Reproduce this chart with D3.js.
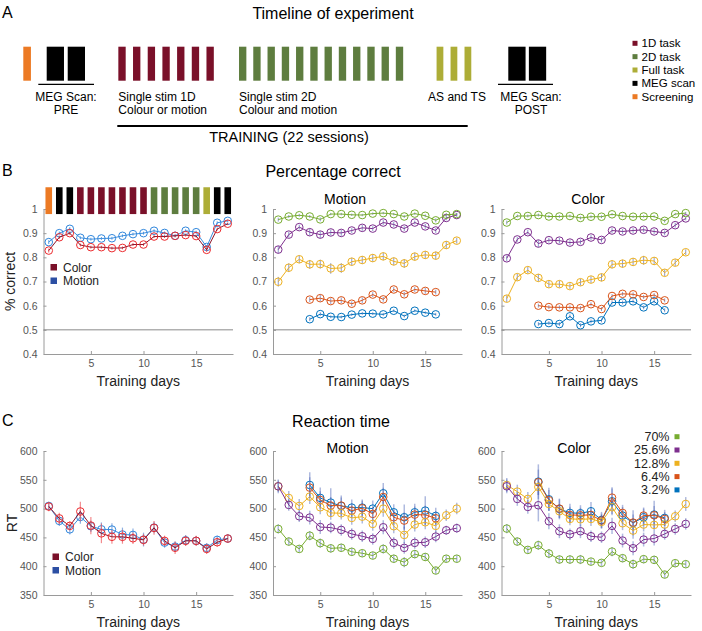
<!DOCTYPE html>
<html><head><meta charset="utf-8">
<script src="https://cdn.jsdelivr.net/npm/d3@7"></script>
<style>
body{margin:0;background:#fff}
text{font-family:Arial,"Liberation Sans",Helvetica,sans-serif}
</style>
</head><body>
<svg id="c" width="702" height="631"></svg>
<script>
// ---------------- DATA ----------------
const days = d3.range(1, 19);        // 18 training days
const daysMid = d3.range(4, 17);     // days 4..16 for low coherences
const xTicks = [5, 10, 15];
const yTicksAcc = [0.4, 0.5, 0.6, 0.7, 0.8, 0.9, 1];
const yTicksRT = [350, 400, 450, 500, 550, 600];

// Timeline sessions (panel A)
const timelineSessions = ["Screening","MEG","MEG",
  "1D","1D","1D","1D","1D","1D","1D",
  "2D","2D","2D","2D","2D","2D","2D","2D","2D","2D","2D","2D",
  "Full","Full","Full","MEG","MEG"];
const timelineLegend = ["1D task","2D task","Full task","MEG scan","Screening"];
const timelineLegendKeys = ["1D","2D","Full","MEG","Screening"];
// Session type per training day (top of panel B left)
const dayTypes = ["Screening","MEG","MEG","1D","1D","1D","1D","1D","1D","1D",
  "2D","2D","2D","2D","2D","Full","MEG","MEG"];

// Panel B left: accuracy overall
const accColorAll  = [0.828,0.883,0.900,0.851,0.842,0.842,0.838,0.839,0.853,0.853,0.886,0.886,0.889,0.892,0.888,0.831,0.917,0.939];
const accMotionAll = [0.863,0.900,0.918,0.881,0.875,0.878,0.879,0.889,0.896,0.900,0.910,0.901,0.889,0.910,0.904,0.843,0.943,0.951];
const errAccColorAll  = [0.008,0.007,0.007,0.006,0.006,0.006,0.006,0.006,0.006,0.006,0.006,0.006,0.006,0.006,0.006,0.008,0.006,0.005];
const errAccMotionAll = [0.008,0.007,0.007,0.006,0.006,0.006,0.006,0.006,0.006,0.006,0.006,0.006,0.006,0.006,0.006,0.008,0.006,0.005];

// coherence levels
const coherences = ["70%","25.6%","12.8%","6.4%","3.2%"];

// Panel B middle: motion accuracy by coherence
const mAcc70  = [0.956,0.969,0.974,0.969,0.957,0.979,0.979,0.976,0.975,0.981,0.983,0.979,0.969,0.981,0.972,0.953,0.976,0.979];
const mAcc256 = [0.832,0.894,0.925,0.904,0.894,0.903,0.901,0.911,0.922,0.919,0.944,0.936,0.919,0.944,0.928,0.911,0.963,0.975];
const mAcc128 = [0.699,0.757,0.792,0.771,0.772,0.754,0.756,0.782,0.789,0.797,0.804,0.783,0.775,0.803,0.810,0.807,0.851,0.869];
const mAcc64  = [0.625,0.631,0.619,0.622,0.608,0.622,0.646,0.626,0.667,0.647,0.667,0.661,0.656];
const mAcc32  = [0.544,0.565,0.554,0.553,0.563,0.568,0.567,0.564,0.579,0.557,0.579,0.571,0.564];
const errMAcc70  = [0.008,0.006,0.006,0.006,0.008,0.005,0.005,0.005,0.005,0.005,0.005,0.005,0.006,0.005,0.006,0.008,0.006,0.005];
const errMAcc256 = [0.015,0.012,0.010,0.014,0.014,0.012,0.012,0.010,0.012,0.010,0.010,0.010,0.010,0.008,0.010,0.010,0.010,0.008];
const errMAcc128 = [0.020,0.018,0.016,0.018,0.018,0.022,0.020,0.016,0.016,0.016,0.016,0.016,0.018,0.016,0.016,0.016,0.016,0.012];
const errMAcc64  = [0.010,0.014,0.012,0.012,0.010,0.012,0.010,0.010,0.010,0.010,0.010,0.012,0.010];
const errMAcc32  = [0.008,0.008,0.006,0.006,0.006,0.006,0.006,0.006,0.006,0.006,0.006,0.006,0.006];

// Panel B right: color accuracy by coherence
const cAcc70  = [0.944,0.971,0.971,0.975,0.969,0.969,0.971,0.963,0.968,0.968,0.978,0.971,0.968,0.969,0.969,0.951,0.979,0.983];
const cAcc256 = [0.796,0.874,0.904,0.857,0.871,0.869,0.861,0.864,0.882,0.872,0.911,0.907,0.911,0.914,0.907,0.901,0.933,0.961];
const cAcc128 = [0.629,0.718,0.747,0.715,0.689,0.689,0.681,0.697,0.708,0.717,0.771,0.774,0.781,0.788,0.785,0.736,0.778,0.821];
const cAcc64  = [0.600,0.594,0.593,0.593,0.590,0.606,0.586,0.640,0.649,0.647,0.636,0.644,0.622];
const cAcc32  = [0.524,0.528,0.524,0.556,0.519,0.535,0.539,0.613,0.613,0.618,0.593,0.618,0.581];
const errCAcc70  = [0.008,0.006,0.006,0.006,0.006,0.006,0.006,0.006,0.006,0.006,0.005,0.005,0.005,0.005,0.005,0.007,0.005,0.005];
const errCAcc256 = [0.012,0.010,0.010,0.014,0.010,0.012,0.010,0.010,0.010,0.010,0.010,0.010,0.010,0.010,0.010,0.010,0.010,0.008];
const errCAcc128 = [0.014,0.014,0.014,0.016,0.014,0.014,0.012,0.014,0.014,0.016,0.016,0.016,0.016,0.018,0.016,0.014,0.014,0.012];
const errCAcc64  = [0.008,0.008,0.008,0.008,0.008,0.008,0.008,0.008,0.008,0.008,0.008,0.008,0.008];
const errCAcc32  = [0.008,0.008,0.008,0.008,0.008,0.008,0.008,0.008,0.008,0.008,0.008,0.008,0.008];

// Panel C left: RT overall
const rtColorAll  = [503.5,483,470,495,470.5,457,451,451,448.5,445.7,466.5,444,432,444,444,430,441.6,448];
const rtMotionAll = [504.6,478.6,464,485.5,469.4,464,463.6,455,454.3,446.2,467,441,434,445,444,431.8,445.7,448];
const errRtColorAll  = [8,10,8,17,15,17,12,12,10,10,12,9,11,9,9,9,8,7];
const errRtMotionAll = [7,9,9,12,10,12,11,12,11,12,10,9,9,9,8,8,7,7];

// Panel C middle: motion RT by coherence
const mRt70  = [464.7,442.8,430,453,440,431,432,425,422.5,418.5,430,413,407,421,416,392.5,413,413];
const mRt256 = [538.7,506.4,486.7,484.4,468,467,463,456,452,447.4,467.6,440.5,431.8,440.5,441.6,451.4,462.4,466];
const mRt128 = [538.7,518.5,504.6,520.8,502.3,492.5,491.9,483.8,486,473.4,500,469.4,454.3,472.3,476.3,470,488.4,500];
const mRt64  = [536.4,515,505.2,505.2,496.5,500.6,490.8,520.2,485,479.2,489.6,489,483.2];
const mRt32  = [541,518.5,510.4,504.6,501.7,501.7,500,526.6,493.6,485,493.6,496.5,487.3];
const errMRt70  = [8,7,6,8,8,7,7,7,6,6,8,7,9,7,7,6,6,6];
const errMRt256 = [10,10,10,12,12,10,10,10,10,10,12,10,10,10,10,10,8,8];
const errMRt128 = [12,12,12,13,12,12,11,12,12,12,14,12,14,12,12,10,10,10];
const errMRt64  = [18,15,15,14,13,13,12,16,13,14,14,16,12];
const errMRt32  = [22,18,25,18,14,14,14,18,14,22,15,25,14];

// Panel C right: color RT by coherence
const cRt70  = [465.3,442.8,428.3,436.4,422,411.6,411.6,411.6,408,405.8,425.4,413.9,403.5,412.2,411,385.5,405.2,403.5];
const cRt256 = [538.7,516.8,502.9,505.8,478,460.7,455.5,460.7,452,450.3,470,444.5,431.2,446.2,448,456,464.7,473.4];
const cRt128 = [541,529.5,516.8,537.6,508,495.4,482,481.5,482,476.9,502.3,474.6,461.8,472.3,471.7,472.3,486.7,508];
const cRt64  = [545.7,514.5,500,489,488.4,489,479.2,519,492.5,475.7,487.9,488.4,482];
const cRt32  = [546.8,516.2,499.4,492.5,491.9,495.4,480.3,512.7,487.9,475.1,485,489.6,483.8];
const errCRt70  = [8,7,6,8,8,7,7,8,6,6,8,7,8,7,7,6,6,6];
const errCRt256 = [12,12,12,28,14,12,10,12,10,10,14,12,12,12,12,10,10,10];
const errCRt128 = [12,12,12,14,12,12,11,12,12,12,14,12,14,12,12,10,10,12];
const errCRt64  = [22,18,16,14,13,13,12,18,14,14,14,16,12];
const errCRt32  = [30,20,18,16,14,16,14,22,15,22,15,24,14];

// ---------------- STYLE ----------------
const typeColor = {"1D":"#7a1029","2D":"#5e7d3f","Full":"#adad37","MEG":"#000000","Screening":"#ec7a24"};
const cohColor = ["#77ac30","#7e2f8e","#edb120","#d95319","#0072bd"];
const axisGrey = "#9a9a9a", tickTextGrey = "#555";

const svg = d3.select("#c");

function txt(x, y, s, size, anchor, fill) {
  return svg.append("text").attr("x", x).attr("y", y).text(s)
    .attr("font-size", size).attr("text-anchor", anchor || "start").attr("fill", fill || "#000");
}

// ---------------- PANEL A ----------------
txt(2, 17.5, "A", 16);
txt(333, 18.5, "Timeline of experiment", 16, "middle");

// layout of timeline: group start in slot units, pitch
const slot = d3.scaleLinear().domain([0, 1]).range([23.3, 37.7]);
const groupLayout = {"Screening":{start:0, pitch:1, w:0.53},
  "MEGpre":{start:1.625, pitch:1.46, w:1.2},
  "1D":{start:6.6, pitch:1.02, w:0.51},
  "2D":{start:14.98, pitch:0.99, w:0.51},
  "Full":{start:28.7, pitch:0.97, w:0.47},
  "MEGpost":{start:33.68, pitch:1.43, w:1.2}};
const tlY = d3.scaleLinear().domain([0, 1]).range([80.7, 46.7]);
let counters = {}, seenTraining = false;
timelineSessions.forEach(t => {
  let key = t;
  if (t === "MEG") key = seenTraining ? "MEGpost" : "MEGpre";
  if (t === "1D") seenTraining = true;
  const L = groupLayout[key];
  const i = counters[key] = (counters[key] === undefined ? 0 : counters[key] + 1);
  const s0 = L.start + i * L.pitch;
  svg.append("rect").attr("x", slot(s0)).attr("y", tlY(1))
    .attr("width", slot(s0 + L.w) - slot(s0)).attr("height", tlY(0) - tlY(1))
    .attr("fill", typeColor[t]);
});
// underlines
svg.append("line").attr("x1", 38.3).attr("x2", 94).attr("y1", 84.3).attr("y2", 84.3).attr("stroke", "#000").attr("stroke-width", 1.3);
svg.append("line").attr("x1", 498).attr("x2", 553).attr("y1", 84.3).attr("y2", 84.3).attr("stroke", "#000").attr("stroke-width", 1.3);
svg.append("line").attr("x1", 117.3).attr("x2", 467.7).attr("y1", 126).attr("y2", 126).attr("stroke", "#000").attr("stroke-width", 2);
txt(66, 101, "MEG Scan:", 12, "middle");
txt(66, 113.5, "PRE", 12, "middle");
txt(118.3, 101, "Single stim 1D", 12);
txt(118.3, 113.5, "Colour or motion", 12);
txt(239, 101, "Single stim 2D", 12);
txt(239, 113.5, "Colour and motion", 12);
txt(457, 101, "AS and TS", 12, "middle");
txt(531, 101, "MEG Scan:", 12, "middle");
txt(531, 113.5, "POST", 12, "middle");
txt(289, 141.5, "TRAINING (22 sessions)", 14.5, "middle");
// legend A
timelineLegend.forEach((lab, i) => {
  const cy = 43.3 + i * 13.35;
  svg.append("rect").attr("x", 632.5).attr("y", cy - 2.5).attr("width", 5).attr("height", 5).attr("fill", typeColor[timelineLegendKeys[i]]);
  txt(641.5, cy + 4, lab, 11.5);
});

// ---------------- AXES helpers ----------------
const xRanges = [[43.5, 233], [273, 462], [501.5, 691]];
const xScales = xRanges.map(r => d3.scaleLinear().domain([0.5, 18.5]).range(r));
const yB = d3.scaleLinear().domain([0.4, 1]).range([354, 209]);
const yC = d3.scaleLinear().domain([350, 600]).range([595, 451]);

function drawAxes(xs, ys, yTicks, fmt) {
  const g = svg.append("g");
  const gx = g.append("g").attr("transform", `translate(0,${ys.range()[0]})`)
    .call(d3.axisBottom(xs).tickValues(xTicks).tickSizeInner(-3).tickSizeOuter(0).tickPadding(6));
  const gy = g.append("g").attr("transform", `translate(${xs.range()[0]},0)`)
    .call(d3.axisLeft(ys).tickValues(yTicks).tickFormat(fmt).tickSizeInner(-3).tickSizeOuter(0).tickPadding(6));
  [gx, gy].forEach(a => {
    a.select(".domain").attr("stroke", axisGrey).attr("stroke-width", 1);
    a.selectAll(".tick line").attr("stroke", axisGrey);
    a.selectAll(".tick text").attr("fill", tickTextGrey).attr("font-size", 10.5)
      .attr("font-family", "Arial,'Liberation Sans',sans-serif");
  });
}
const fmtAcc = d => d === 1 ? "1" : d3.format(".1f")(d);
const fmtRT = d => String(d);

function drawSeries(xs, ys, xd, vals, errs, lineCol, markCol, errCol, errW, errOp) {
  const g = svg.append("g");
  const pts = xd.map((d, i) => ({d, v: vals[i], e: errs[i]}));
  g.selectAll("line.eb").data(pts).join("line")
    .attr("x1", p => xs(p.d)).attr("x2", p => xs(p.d))
    .attr("y1", p => ys(p.v - p.e)).attr("y2", p => ys(p.v + p.e))
    .attr("stroke", errCol).attr("stroke-width", errW).attr("stroke-opacity", errOp);
  g.append("path").datum(pts)
    .attr("d", d3.line().x(p => xs(p.d)).y(p => ys(p.v)))
    .attr("fill", "none").attr("stroke", lineCol).attr("stroke-width", 1);
  g.selectAll("circle").data(pts).join("circle")
    .attr("cx", p => xs(p.d)).attr("cy", p => ys(p.v)).attr("r", 3.8)
    .attr("fill", "none").attr("stroke", markCol).attr("stroke-width", 1);
}

// ---------------- PANEL B ----------------
txt(2, 175.5, "B", 16);
txt(333, 177, "Percentage correct", 16, "middle");
txt(345, 203.5, "Motion", 14, "middle");
txt(588, 203.5, "Color", 14, "middle");

xScales.forEach(xs => {
  drawAxes(xs, yB, yTicksAcc, fmtAcc);
  svg.append("line").attr("x1", xs.range()[0]).attr("x2", xs.range()[1])
    .attr("y1", yB(0.5)).attr("y2", yB(0.5)).attr("stroke", "#8a8a8a").attr("stroke-width", 1);
  txt((xs.range()[0] + xs.range()[1]) / 2, 385.5, "Training days", 14, "middle", "#222");
});
// session-type squares above panel B left
{
  const xs = xScales[0];
  svg.append("g").selectAll("rect").data(dayTypes).join("rect")
    .attr("x", (t, i) => xs(days[i]) - 3.3).attr("width", 6.6)
    .attr("y", yB(1.09)).attr("height", yB(0.979) - yB(1.09))
    .attr("fill", t => typeColor[t]);
}
svg.append("text").attr("transform", "translate(15,281.5) rotate(-90)").attr("text-anchor", "middle")
  .attr("font-size", 14).attr("fill", "#222").text("% correct");

drawSeries(xScales[0], yB, days, accMotionAll, errAccMotionAll, "#3d8ede", "#2f86dc", "#2f86dc", 1, 0.8);
drawSeries(xScales[0], yB, days, accColorAll, errAccColorAll, "#8c1228", "#ec2a2e", "#ec2a2e", 1, 0.8);
svg.append("rect").attr("x", 50.5).attr("y", 264).attr("width", 6.5).attr("height", 6.5).attr("fill", "#7a1029");
svg.append("rect").attr("x", 50.5).attr("y", 277.5).attr("width", 6.5).attr("height", 6.5).attr("fill", "#2c4fa3");
txt(63, 271.5, "Color", 12, "start", "#222");
txt(63, 285, "Motion", 12, "start", "#222");

const mAcc = [mAcc70, mAcc256, mAcc128, mAcc64, mAcc32];
const mAccE = [errMAcc70, errMAcc256, errMAcc128, errMAcc64, errMAcc32];
const cAcc = [cAcc70, cAcc256, cAcc128, cAcc64, cAcc32];
const cAccE = [errCAcc70, errCAcc256, errCAcc128, errCAcc64, errCAcc32];
for (let k = 4; k >= 0; k--) {
  const xd = k >= 3 ? daysMid : days;
  drawSeries(xScales[1], yB, xd, mAcc[k], mAccE[k], cohColor[k], cohColor[k], "#5b6fb5", 1, 0.7);
  drawSeries(xScales[2], yB, xd, cAcc[k], cAccE[k], cohColor[k], cohColor[k], "#5b6fb5", 1, 0.7);
}

// ---------------- PANEL C ----------------
txt(2, 425.5, "C", 16);
txt(341, 426.5, "Reaction time", 16, "middle");
txt(347.5, 452.5, "Motion", 14, "middle");
txt(574, 452.5, "Color", 14, "middle");
xScales.forEach(xs => {
  drawAxes(xs, yC, yTicksRT, fmtRT);
  txt((xs.range()[0] + xs.range()[1]) / 2, 626.5, "Training days", 14, "middle", "#222");
});
svg.append("text").attr("transform", "translate(17,523) rotate(-90)").attr("text-anchor", "middle")
  .attr("font-size", 14).attr("fill", "#222").text("RT");

drawSeries(xScales[0], yC, days, rtMotionAll, errRtMotionAll, "#3d8ede", "#2f86dc", "#5b8fd6", 1.2, 0.7);
drawSeries(xScales[0], yC, days, rtColorAll, errRtColorAll, "#8c1228", "#ec2a2e", "#ee5a5e", 1.2, 0.7);
svg.append("rect").attr("x", 52.5).attr("y", 553.5).attr("width", 6.5).attr("height", 6.5).attr("fill", "#7a1029");
svg.append("rect").attr("x", 52.5).attr("y", 567).attr("width", 6.5).attr("height", 6.5).attr("fill", "#2c4fa3");
txt(65, 561, "Color", 12, "start", "#222");
txt(65, 574.5, "Motion", 12, "start", "#222");

const mRt = [mRt70, mRt256, mRt128, mRt64, mRt32];
const mRtE = [errMRt70, errMRt256, errMRt128, errMRt64, errMRt32];
const cRt = [cRt70, cRt256, cRt128, cRt64, cRt32];
const cRtE = [errCRt70, errCRt256, errCRt128, errCRt64, errCRt32];
for (let k = 4; k >= 0; k--) {
  const xd = k >= 3 ? daysMid : days;
  drawSeries(xScales[1], yC, xd, mRt[k], mRtE[k], cohColor[k], cohColor[k], "#4e66b8", 1.5, 0.45);
  drawSeries(xScales[2], yC, xd, cRt[k], cRtE[k], cohColor[k], cohColor[k], "#4e66b8", 1.5, 0.45);
}
// legend C right
coherences.forEach((lab, i) => {
  const cy = 436.7 + i * 13.3;
  txt(669.5, cy + 4.3, lab, 12.5, "end", "#222");
  svg.append("rect").attr("x", 674.5).attr("y", cy - 2.5).attr("width", 5).attr("height", 5).attr("fill", cohColor[i]);
});
</script>
</body></html>
